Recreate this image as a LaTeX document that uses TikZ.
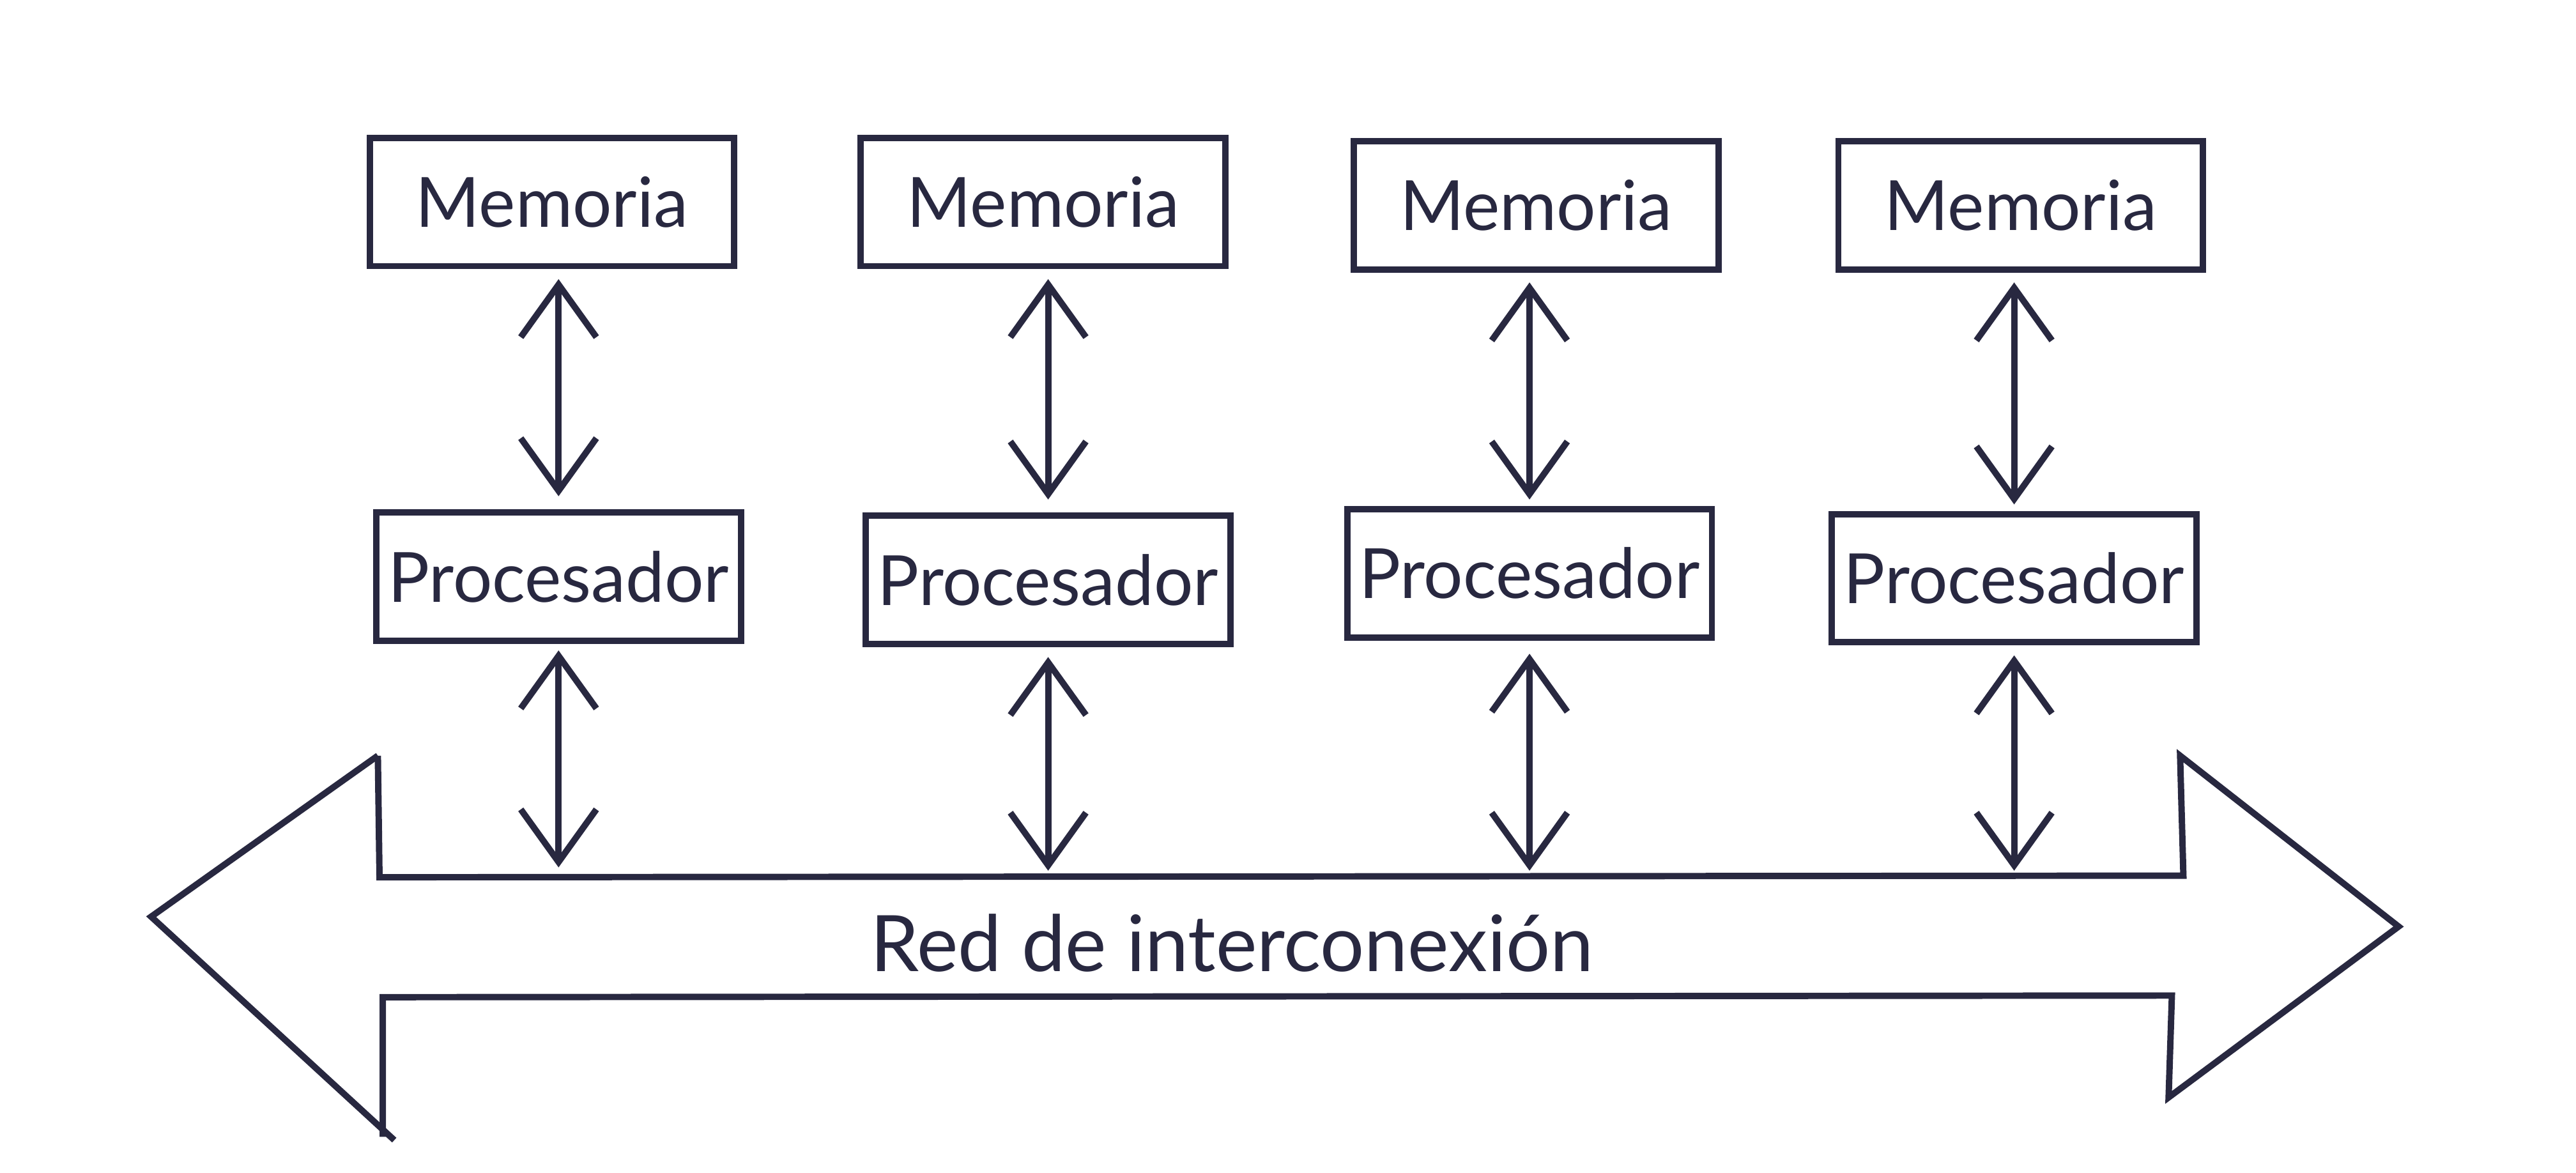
\documentclass[tikz,border=0pt]{standalone}
\usepackage{fontspec}
\setmainfont{Lato}
\usetikzlibrary{arrows.meta}
\definecolor{ink}{RGB}{40,40,64}
\begin{document}
\begin{tikzpicture}[
    caja/.style={draw=ink, line width=1.1pt, minimum width=2.22cm, minimum height=0.78cm,
                 inner sep=0pt, font=\fontsize{12}{14}\selectfont, text=ink},
    flecha/.style={draw=ink, line width=1.1pt,
                   {Straight Barb[length=0.32cm,width=0.46cm]}-{Straight Barb[length=0.32cm,width=0.46cm]}}
  ]
    \useasboundingbox (0,0) rectangle (15.68,7.14);
    % memorias
    \node [caja] (mem1) at (3.36,5.91) {Memoria};
    \node [caja] (mem2) at (6.35,5.91) {Memoria};
    \node [caja] (mem3) at (9.35,5.89) {Memoria};
    \node [caja] (mem4) at (12.30,5.89) {Memoria};
    % procesadores
    \node [caja] (proc1) at (3.40,3.63) {Procesador};
    \node [caja] (proc2) at (6.38,3.61) {Procesador};
    \node [caja] (proc3) at (9.31,3.65) {Procesador};
    \node [caja] (proc4) at (12.26,3.62) {Procesador};
    % red de interconexion
    \coordinate (redtop) at (2.31,1.80);
    \draw [ink, line width=1.1pt] (2.30,2.54) -- (0.92,1.56) -- (2.40,0.20);
    \draw [ink, line width=1.1pt] (2.30,2.54) -- (2.31,1.80) -- (13.29,1.81) -- (13.27,2.54)
                                  -- (14.60,1.50) -- (13.20,0.46) -- (13.22,1.08) -- (2.33,1.07) -- (2.33,0.22);
    \node [text=ink, font=\fontsize{13.5}{16}\selectfont] (red) at (7.50,1.40) {Red de interconexión};
    % conexiones
    \draw [flecha] ([yshift=0.08cm]proc1.north) -- ([yshift=-0.06cm]proc1.north |- mem1.south);
    \draw [flecha] ([yshift=0.08cm]proc2.north) -- ([yshift=-0.06cm]proc2.north |- mem2.south);
    \draw [flecha] ([yshift=0.04cm]proc3.north) -- ([yshift=-0.06cm]proc3.north |- mem3.south);
    \draw [flecha] ([yshift=0.04cm]proc4.north) -- ([yshift=-0.06cm]proc4.north |- mem4.south);
    \draw [flecha] ([yshift=-0.04cm]proc1.south) -- ([yshift=0.06cm]proc1.south |- redtop);
    \draw [flecha] ([yshift=-0.06cm]proc2.south) -- ([yshift=0.04cm]proc2.south |- redtop);
    \draw [flecha] ([yshift=-0.08cm]proc3.south) -- ([yshift=0.04cm]proc3.south |- redtop);
    \draw [flecha] ([yshift=-0.06cm]proc4.south) -- ([yshift=0.04cm]proc4.south |- redtop);
\end{tikzpicture}
\end{document}
